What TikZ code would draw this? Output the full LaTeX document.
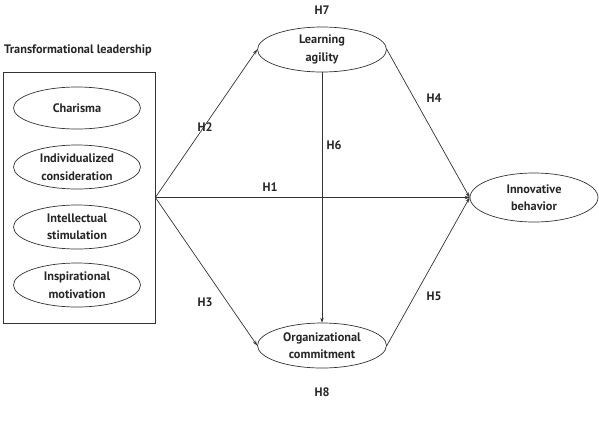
\documentclass[tikz,border=0pt]{standalone}
\usepackage{fontspec}
\setmainfont{PT Sans}
\usetikzlibrary{shapes.geometric,arrows.meta}
\begin{document}
\begin{tikzpicture}[x=1pt,y=-1pt,
  every node/.style={font=\fontsize{12.3}{17.5}\selectfont\bfseries, text=black!85, align=center},
  oval/.style={ellipse, draw=black!80, line width=0.7pt, inner sep=0pt, minimum width=129pt, minimum height=45pt},
  conn/.style={draw=black!80, line width=0.7pt, -{Stealth[length=5pt,width=3.5pt]}},
  lbl/.style={inner sep=1pt}]
\useasboundingbox (0,0) rectangle (599,424);
\node (title) at (78,50) {Transformational leadership};
\node[draw=black!80, line width=0.7pt, minimum width=152pt, minimum height=251pt, inner sep=0pt] (tl) at (79,197.5) {};
\node[oval, minimum width=127pt, minimum height=42pt] (c1) at (77,108) {Charisma};
\node[oval, minimum width=127pt, minimum height=44pt] (c2) at (77,167) {Individualized\\consideration};
\node[oval, minimum width=127pt, minimum height=44pt] (c3) at (77,227) {Intellectual\\stimulation};
\node[oval, minimum width=127pt, minimum height=44pt] (c4) at (77,285) {Inspirational\\motivation};
\node[oval] (la) at (322,49.5) {Learning\\agility};
\node[oval] (oc) at (322,345.5) {Organizational\\commitment};
\node[oval, minimum width=128pt, minimum height=49pt] (ib) at (534,197.5) {Innovative\\behavior};
\draw[conn] (tl.east) -- (la.west);
\draw[conn] (tl.east) -- (oc.west);
\draw[conn] (tl.east) -- (ib.west);
\draw[conn] (la.east) -- (ib.west);
\draw[conn] (oc.east) -- (ib.west);
\draw[conn] (la.south) -- (oc.north);
\node[lbl] (h1) at (270,187) {H1};
\node[lbl] (h2) at (205,127) {H2};
\node[lbl] (h3) at (205,302) {H3};
\node[lbl] (h4) at (434,98) {H4};
\node[lbl] (h5) at (434,296) {H5};
\node[lbl] (h6) at (334,145) {H6};
\node[lbl] (h7) at (322,10) {H7};
\node[lbl] (h8) at (322,392) {H8};
\end{tikzpicture}
\end{document}
